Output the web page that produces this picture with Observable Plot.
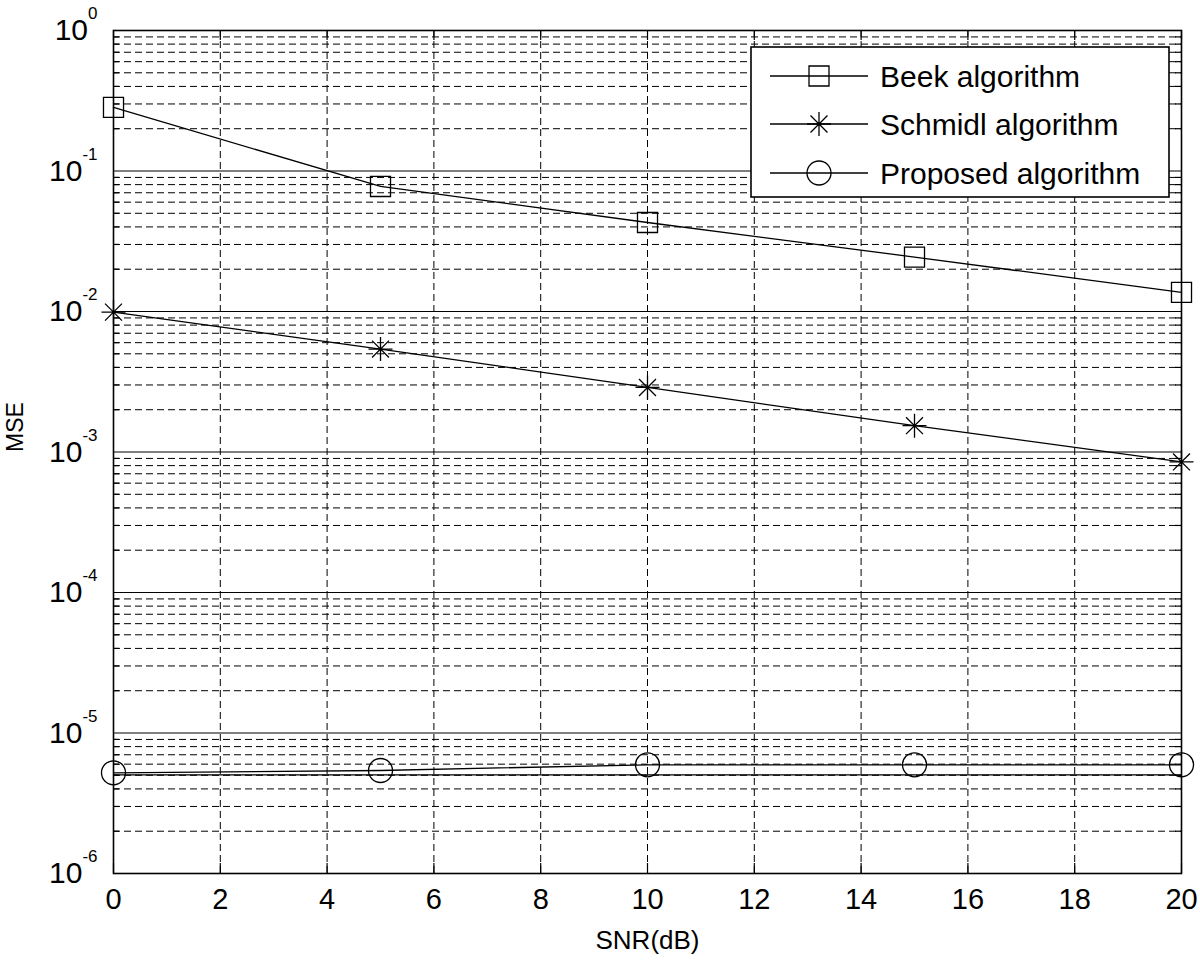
<!DOCTYPE html>
<html>
<head>
<meta charset="utf-8">
<script src="https://cdn.jsdelivr.net/npm/d3@7"></script>
<script src="https://cdn.jsdelivr.net/npm/@observablehq/plot@0.6"></script>
<style>
  html, body { margin: 0; padding: 0; background: #fff; }
  #chart { width: 1200px; height: 962px; }
</style>
</head>
<body>
<div id="chart"></div>
<script>
// ---- data ----
const snr = [0, 5, 10, 15, 20];
const beek = [0.284, 0.0776, 0.043, 0.0244, 0.0137];
const schmidl = [0.0099, 0.0054, 0.00288, 0.00154, 0.00085];
const proposed = [5.21e-6, 5.41e-6, 5.94e-6, 5.94e-6, 5.94e-6];
const boundSnr = [0, 20];
const bound = [5.04e-6, 5.04e-6];
const seriesNames = ["Beek algorithm", "Schmidl algorithm", "Proposed algorithm"];
const xTicks = [0, 2, 4, 6, 8, 10, 12, 14, 16, 18, 20];
const decadeExps = [-6, -5, -4, -3, -2, -1, 0];
const minorMultipliers = [2, 3, 4, 5, 6, 7, 8, 9];
const xTitle = "SNR(dB)";
const yTitle = "MSE";

// ---- derived tables ----
const decades = decadeExps.map(e => Math.pow(10, e));
const minors = [];
decadeExps.slice(0, -1).forEach(e => minorMultipliers.forEach(m => minors.push(m * Math.pow(10, e))));
const toRows = (vals, xs = snr) => vals.map((v, i) => ({x: xs[i], y: v}));
const beekRows = toRows(beek), schRows = toRows(schmidl), propRows = toRows(proposed), boundRows = toRows(bound, boundSnr);

const W = 1200, H = 962;
const mL = 113, mR = 19, mT = 30, mB = 89;
const plotW = W - mL - mR, plotH = H - mT - mB;
const FONT = "'Liberation Sans', Arial, Helvetica, sans-serif";

const asterisk8 = {
  draw(ctx, size) {
    const r = Math.sqrt(size / Math.PI);
    const d = r * Math.SQRT1_2;
    ctx.moveTo(-r, 0); ctx.lineTo(r, 0);
    ctx.moveTo(0, -r); ctx.lineTo(0, r);
    ctx.moveTo(-d, -d); ctx.lineTo(d, d);
    ctx.moveTo(-d, d); ctx.lineTo(d, -d);
  }
};

const dash = "7,4";
const chart = Plot.plot({
  width: W, height: H,
  marginLeft: mL, marginRight: mR, marginTop: mT, marginBottom: mB,
  style: {fontFamily: FONT, background: "#fff", color: "black"},
  x: {domain: [0, 20]},
  y: {type: "log", domain: [1e-6, 1]},
  marks: [
    // grid
    Plot.gridX(xTicks.slice(1, -1), {stroke: "black", strokeOpacity: 1, strokeWidth: 1, strokeDasharray: dash}),
    Plot.gridY(minors, {stroke: "black", strokeOpacity: 1, strokeWidth: 1, strokeDasharray: dash}),
    Plot.gridY(decades.slice(1, -1), {stroke: "black", strokeOpacity: 1, strokeWidth: 1.2}),
    // inner ticks
    Plot.tickX(xTicks, {x: d => d, insetTop: plotH - 10, stroke: "black", strokeWidth: 1.2}),
    Plot.tickX(xTicks, {x: d => d, insetBottom: plotH - 10, stroke: "black", strokeWidth: 1.2}),
    Plot.tickY(minors, {y: d => d, insetRight: plotW - 6, stroke: "black", strokeWidth: 1.2}),
    Plot.tickY(minors, {y: d => d, insetLeft: plotW - 6, stroke: "black", strokeWidth: 1.2}),
    // axes
    Plot.axisX(xTicks, {tickSize: 0, tickPadding: 15, fontSize: 29, label: null, tickFormat: d => String(d)}),
    Plot.axisY(decades, {tickSize: 0, tickPadding: 16, fontSize: 30, label: null, tickFormat: d => "10|" + Math.round(Math.log10(d))}),
    // axis titles (placed in the frame's margins)
    Plot.text([xTitle], {frameAnchor: "bottom", dy: 75, text: d => d, fontSize: 26, fill: "black"}),
    Plot.text([yTitle], {frameAnchor: "left", dx: -98, rotate: -90, text: d => d, fontSize: 23, fill: "black"}),
    // series
    Plot.line(boundRows, {x: "x", y: "y", stroke: "black", strokeWidth: 1.3}),
    Plot.line(beekRows, {x: "x", y: "y", stroke: "black", strokeWidth: 1.3}),
    Plot.line(schRows, {x: "x", y: "y", stroke: "black", strokeWidth: 1.3}),
    Plot.line(propRows, {x: "x", y: "y", stroke: "black", strokeWidth: 1.3}),
    Plot.dot(beekRows, {x: "x", y: "y", symbol: "square", r: 11.3, stroke: "black", fill: "none", strokeWidth: 1.3}),
    Plot.dot(schRows, {x: "x", y: "y", symbol: asterisk8, r: 12, stroke: "black", fill: "none", strokeWidth: 1.3}),
    Plot.dot(propRows, {x: "x", y: "y", symbol: "circle", r: 12, stroke: "black", fill: "none", strokeWidth: 1.3}),
    Plot.frame({stroke: "black", strokeWidth: 1.6})
  ]
});

const svg = d3.select(chart);

// x tick labels: enforce size
svg.selectAll("text").filter(function() { return /^\d+$/.test(this.textContent); })
  .attr("font-size", 29).style("font-size", "29px");

// superscript exponents for y tick labels
svg.selectAll("text").each(function() {
  const t = d3.select(this);
  const s = t.text();
  if (!/^10\|-?\d+$/.test(s)) return;
  const parts = s.split("|");
  t.attr("font-size", 30).style("font-size", "30px");
  t.text(null);
  t.append("tspan").text(parts[0]);
  t.append("tspan").attr("font-size", 17).style("font-size", "17px").attr("dy", -21).text(parts[1]);
});

// legend (inside the plot, top right)
const lg = svg.append("g").attr("font-family", FONT).attr("text-anchor", "start");
const box = {x: 751, y: 47, w: 418, h: 150};
lg.append("rect").attr("x", box.x).attr("y", box.y).attr("width", box.w).attr("height", box.h)
  .attr("fill", "white").attr("stroke", "black").attr("stroke-width", 1.6);
const rowY = [76, 124, 173];
const symGens = [d3.symbol(d3.symbolSquare, 400), d3.symbol(asterisk8, Math.PI * 144), d3.symbol(d3.symbolCircle, Math.PI * 144)];
seriesNames.forEach((name, i) => {
  const y = rowY[i];
  lg.append("line").attr("x1", 770).attr("x2", 868).attr("y1", y).attr("y2", y)
    .attr("stroke", "black").attr("stroke-width", 1.3);
  lg.append("path").attr("d", symGens[i]()).attr("transform", `translate(819,${y})`)
    .attr("fill", "none").attr("stroke", "black").attr("stroke-width", 1.3);
  lg.append("text").attr("x", 880).attr("y", y).attr("dy", "0.35em").attr("text-anchor", "start")
    .attr("font-size", 30).style("font-size", "30px").attr("fill", "black").text(name);
});

document.getElementById("chart").appendChild(chart);
</script>
</body>
</html>
